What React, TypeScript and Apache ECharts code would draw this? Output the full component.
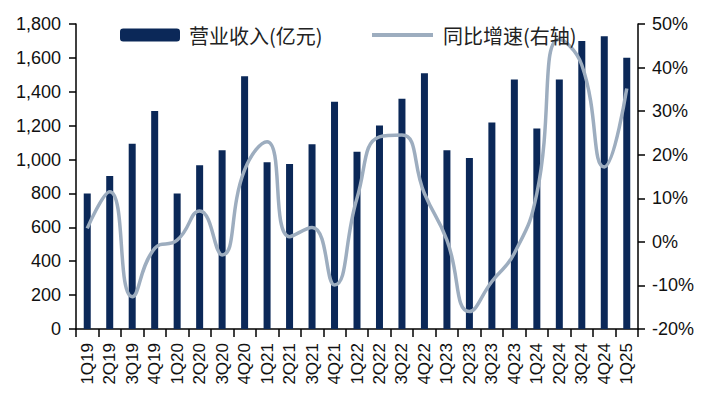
import React, { useEffect, useRef } from "react";
import * as echarts from "echarts";

const categories = ["1Q19","2Q19","3Q19","4Q19","1Q20","2Q20","3Q20","4Q20","1Q21","2Q21","3Q21","4Q21","1Q22","2Q22","3Q22","4Q22","1Q23","2Q23","3Q23","4Q23","1Q24","2Q24","3Q24","4Q24","1Q25"];
const revenue = [800, 903, 1094, 1287, 800, 966, 1055, 1491, 984, 974, 1090, 1341, 1046, 1201, 1359, 1509, 1055, 1009, 1218, 1473, 1184, 1473, 1700, 1727, 1601];
const yoy = [3.1, 11.5, -12.6, -1.5, 0.4, 7.1, -3.0, 16.5, 23.0, 1.2, 3.3, -9.9, 10.0, 24.1, 24.5, 11.1, 0.4, -16.0, -9.1, -2.6, 11.1, 46.5, 40.6, 17.2, 35.2];
const barName = "营业收入(亿元)";
const lineName = "同比增速(右轴)";

const FONT = "'Liberation Sans', Arial, sans-serif";
const CJK = "'Noto Sans CJK SC', sans-serif";
const LINE_COLOR = "#9dadbf";

export default function App() {
  const ref = useRef<HTMLDivElement>(null);
  useEffect(() => {
    if (!ref.current) return;
    const chart = echarts.init(ref.current, null, { renderer: "svg" });
    const axisLine = { show: true, lineStyle: { color: "#000", width: 1.5 } };
    chart.setOption({
      animation: false,
      backgroundColor: "#fff",
      grid: { left: 76, right: 67, top: 24, bottom: 70 },
      legend: [
        {
          data: [barName],
          left: 115,
          top: 20,
          itemWidth: 60,
          itemHeight: 13,
          textStyle: { fontFamily: CJK, fontSize: 20, color: "#222", padding: [0, 0, 0, 4] },
        },
        {
          data: [{ name: lineName, icon: "rect", itemStyle: { color: LINE_COLOR } }],
          left: 367,
          top: 20,
          itemWidth: 61,
          itemHeight: 4,
          textStyle: { fontFamily: CJK, fontSize: 20, color: "#222", padding: [0, 0, 0, 5] },
        },
      ],
      xAxis: {
        type: "category",
        data: categories,
        boundaryGap: true,
        axisLine,
        axisTick: { show: true, length: 8, lineStyle: { color: "#000", width: 1.5 } },
        axisLabel: { rotate: 90, interval: 0, margin: 14, fontFamily: FONT, fontSize: 17, color: "#111" },
      },
      yAxis: [
        {
          type: "value",
          min: 0,
          max: 1800,
          interval: 200,
          splitLine: { show: false },
          axisLine,
          axisTick: { show: true, length: 7, lineStyle: { color: "#000", width: 1.5 } },
          axisLabel: {
            margin: 15,
            fontFamily: FONT,
            fontSize: 18,
            color: "#111",
            formatter: (v: number) => v.toLocaleString("en-US"),
          },
        },
        {
          type: "value",
          min: -20,
          max: 50,
          interval: 10,
          position: "right",
          splitLine: { show: false },
          axisLine,
          axisTick: { show: true, length: 7, lineStyle: { color: "#000", width: 1.5 } },
          axisLabel: { margin: 14, fontFamily: FONT, fontSize: 18, color: "#111", formatter: "{value}%" },
        },
      ],
      series: [
        {
          name: barName,
          type: "bar",
          data: revenue,
          barWidth: 7,
          itemStyle: { color: "#0b2858" },
        },
        {
          name: lineName,
          type: "line",
          yAxisIndex: 1,
          data: yoy,
          smooth: 0.5,
          symbol: "none",
          lineStyle: { color: LINE_COLOR, width: 3.5 },
          itemStyle: { color: LINE_COLOR },
        },
      ],
    });
    return () => chart.dispose();
  }, []);
  return <div ref={ref} style={{ width: 705, height: 399, position: "absolute", left: 0, top: 0 }} />;
}
